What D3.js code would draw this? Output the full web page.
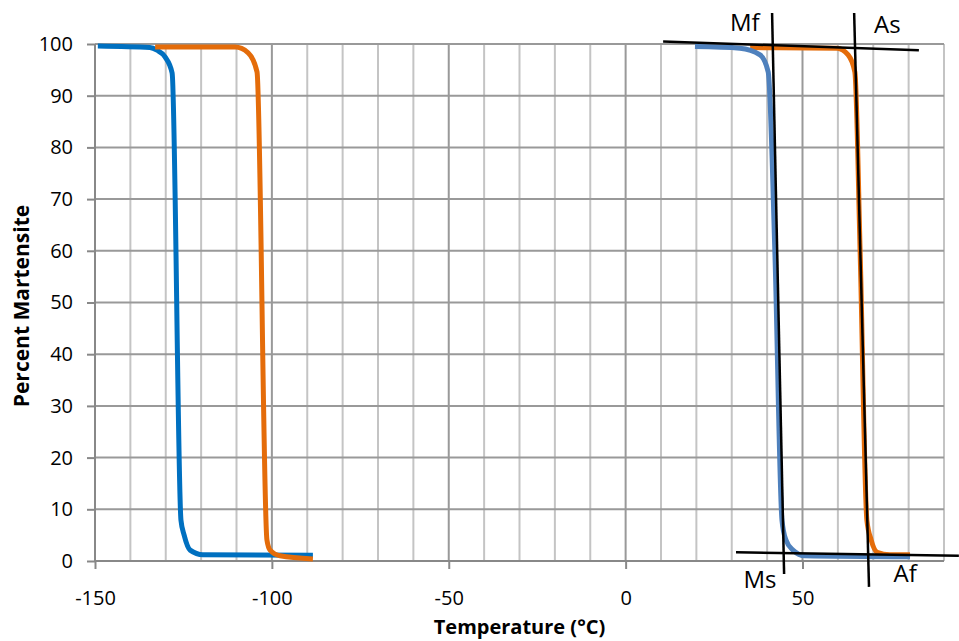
<!DOCTYPE html>
<html>
<head>
<meta charset="utf-8">
<script src="https://cdn.jsdelivr.net/npm/d3@7"></script>
<style>
    body { margin: 0; background: #fff; }
    text { font-family: "Open Sans", sans-serif; fill: #000; }
</style>
</head>
<body>
<svg id="chart" width="959" height="641"></svg>
<script>
// tick values
const xTicks = [-150, -100, -50, 0, 50];
const xGrid = d3.range(-150, 91, 10);
const yTicks = [0, 10, 20, 30, 40, 50, 60, 70, 80, 90, 100];

// first alloy (cold), cooling / heating
const coldCoolT = [-149.2, -134.5, -132.5, -130.2, -128.2, -125.7, -124.8, -123.1, -119.5, -88.4];
const coldCoolP = [99.6, 99.3, 98.8, 97.5, 94.4, 7.9, 5.0, 2.1, 1.2, 1.1];
const coldHeatT = [-133, -110.4, -106.7, -104.2, -101.4, -100.5, -97.7, -88.4];
const coldHeatP = [99.4, 99.4, 98.3, 94.6, 4.1, 2.1, 1.0, 0.4];

// second alloy (warm), cooling / heating
const warmCoolT = [19.6, 32.3, 38.0, 40.3, 42.2, 44.2, 45.3, 47.3, 50.7, 80.4];
const warmCoolP = [99.5, 99.2, 97.9, 94.6, 59.6, 7.9, 4.1, 2.1, 1.0, 0.8];
const warmHeatT = [35.2, 59.8, 62.9, 64.8, 66.3, 68.2, 69.4, 71.1, 74.7, 80.4];
const warmHeatP = [99.3, 99.2, 97.9, 94.6, 59.6, 7.9, 4.1, 1.7, 1.2, 1.2];

// tangent construction lines: [t1, p1, t2, p2]
const tangentLines = [
    [10.6, 100.5, 82.9, 98.8],   // upper plateau
    [31.2, 1.7, 94.2, 1.0],      // lower plateau
    [41.4, 106.0, 44.8, -2.5],   // martensite branch
    [64.6, 106.0, 68.8, -5.0],   // austenite branch
];
const tempLabels = ["Mf", "As", "Ms", "Af"];
const tempLabelT = [33.7, 74.0, 38.0, 79.0];
const tempLabelP = [102.6, 102.1, -5.2, -4.1];

var svg = d3.select("#chart");
var x = d3.scaleLinear().domain([-150, 90]).range([95, 944]);
var y = d3.scaleLinear().domain([0, 100]).range([561, 44]);

// grid
svg.append("g").selectAll("line")
    .data(xGrid.filter((d) => d % 50 !== 0))
    .join("line")
    .attr("x1", (d) => x(d)).attr("x2", (d) => x(d))
    .attr("y1", y(0)).attr("y2", y(100))
    .attr("stroke", "#c4c4c4").attr("stroke-width", 2);

svg.append("g").selectAll("line")
    .data(xGrid.filter((d) => d % 50 === 0 && d !== -150))
    .join("line")
    .attr("x1", (d) => x(d)).attr("x2", (d) => x(d))
    .attr("y1", y(0)).attr("y2", y(100))
    .attr("stroke", "#999").attr("stroke-width", 2);

svg.append("g").selectAll("line")
    .data(yTicks.slice(1))
    .join("line")
    .attr("x1", x(-150)).attr("x2", x(90))
    .attr("y1", (d) => y(d)).attr("y2", (d) => y(d))
    .attr("stroke", "#999").attr("stroke-width", 2);

// axes
var xAxis = svg.append("g")
    .attr("transform", `translate(0,${y(0)})`)
    .call(d3.axisBottom(x).tickValues(xTicks).tickSize(8).tickPadding(22)
        .tickFormat((d) => d));
var yAxis = svg.append("g")
    .attr("transform", `translate(${x(-150)},0)`)
    .call(d3.axisLeft(y).tickValues(yTicks).tickSize(8).tickPadding(14));

[xAxis, yAxis].forEach((g) => {
    g.select(".domain").attr("stroke", "#888").attr("stroke-width", 2);
    g.selectAll(".tick line").attr("stroke", "#888").attr("stroke-width", 2);
    g.selectAll(".tick text").attr("font-family", "Open Sans")
        .attr("font-size", 20).attr("fill", "#000");
});
xAxis.select(".domain").attr("d", `M${x(-150)},0H${x(90)}`);
yAxis.select(".domain").attr("d", `M0,${y(100)}V${y(0)}`);

// curves
var line = d3.line()
    .x((d) => x(d[0]))
    .y((d) => y(d[1]))
    .curve(d3.curveMonotoneX);

function drawCurve(ts, ps, color) {
    svg.append("path")
        .datum(ts.map((t, i) => [t, ps[i]]))
        .attr("d", line)
        .attr("fill", "none")
        .attr("stroke", color)
        .attr("stroke-width", 5)
        .attr("stroke-linejoin", "round");
}

drawCurve(coldCoolT, coldCoolP, "#0070c0");
drawCurve(coldHeatT, coldHeatP, "#e46c0a");
drawCurve(warmHeatT, warmHeatP, "#e46c0a");
drawCurve(warmCoolT, warmCoolP, "#4f81bd");

// tangent lines
svg.append("g").selectAll("line")
    .data(tangentLines)
    .join("line")
    .attr("x1", (d) => x(d[0])).attr("y1", (d) => y(d[1]))
    .attr("x2", (d) => x(d[2])).attr("y2", (d) => y(d[3]))
    .attr("stroke", "#000").attr("stroke-width", 2.5);

svg.append("g").selectAll("text")
    .data(tempLabels)
    .join("text")
    .attr("x", (d, i) => x(tempLabelT[i]))
    .attr("y", (d, i) => y(tempLabelP[i]))
    .attr("text-anchor", "middle")
    .attr("font-size", 24)
    .text((d) => d);

// axis titles
svg.append("text")
    .attr("x", (x(-150) + x(90)) / 2)
    .attr("y", 634)
    .attr("text-anchor", "middle")
    .attr("font-size", 20)
    .attr("font-weight", "bold")
    .text("Temperature (°C)");

svg.append("text")
    .attr("transform", "translate(29,306) rotate(-90)")
    .attr("text-anchor", "middle")
    .attr("font-size", 21)
    .attr("font-weight", "bold")
    .text("Percent Martensite");
</script>
</body>
</html>
